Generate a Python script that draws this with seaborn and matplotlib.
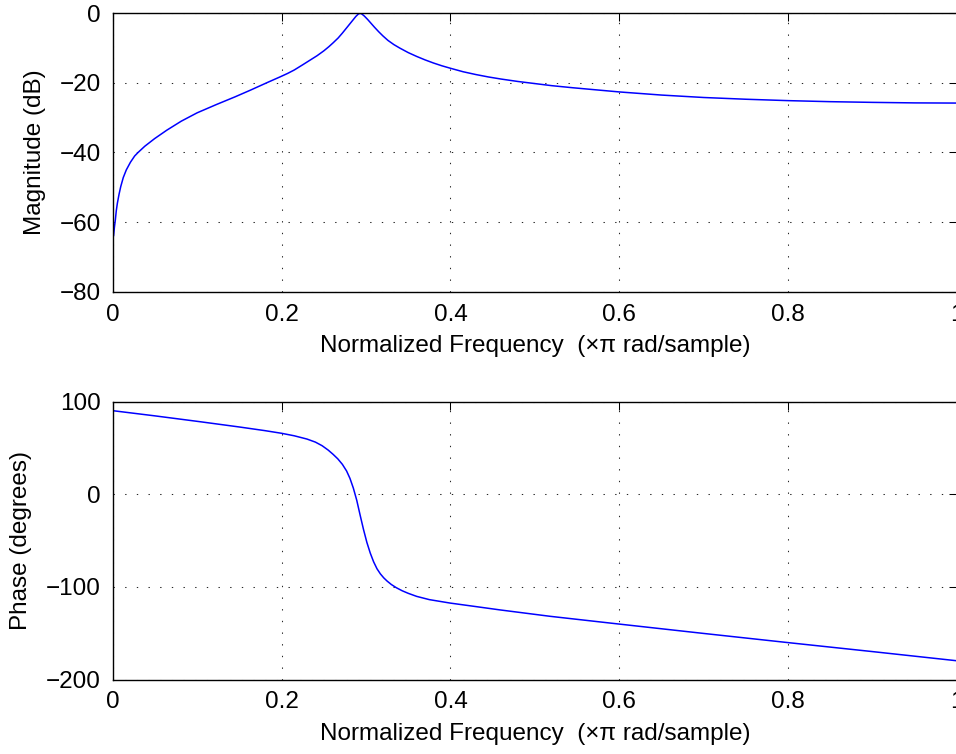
import matplotlib
matplotlib.use('Agg')
import matplotlib.pyplot as plt
import seaborn as sns
import pandas as pd

# Magnitude response
mag_freq = [0.001, 0.002, 0.0031, 0.0042, 0.0055, 0.0075, 0.0095, 0.0125, 0.0161, 0.021,
            0.026, 0.030, 0.038, 0.0497, 0.064, 0.0812, 0.100, 0.123, 0.145, 0.163,
            0.184, 0.198, 0.207, 0.215, 0.225, 0.2335, 0.242, 0.250, 0.256, 0.261,
            0.267, 0.272, 0.277, 0.281, 0.285, 0.288, 0.291, 0.293, 0.295, 0.298,
            0.302, 0.306, 0.310, 0.315, 0.320, 0.326, 0.333, 0.340, 0.350, 0.360,
            0.370, 0.380, 0.390, 0.400, 0.415, 0.430, 0.445, 0.460, 0.480, 0.500,
            0.520, 0.545, 0.577, 0.600, 0.650, 0.700, 0.750, 0.800, 0.850, 0.900,
            0.950, 1.0]
mag_db = [-64.0, -61.5, -59.4, -56.8, -54.6, -52.0, -49.8, -47.2, -45.0, -42.8,
          -41.0, -40.0, -38.2, -36.0, -33.6, -31.0, -28.6, -26.2, -24.0, -22.1,
          -19.8, -18.3, -17.3, -16.3, -14.8, -13.5, -12.2, -10.8, -9.6, -8.5,
          -7.1, -5.7, -4.2, -3.0, -1.8, -0.9, -0.2, 0.0, -0.2, -0.8,
          -1.8, -2.9, -4.0, -5.3, -6.5, -7.8, -9.0, -10.0, -11.3, -12.4,
          -13.4, -14.3, -15.1, -15.8, -16.8, -17.6, -18.3, -18.9, -19.6, -20.2,
          -20.8, -21.4, -22.1, -22.6, -23.5, -24.2, -24.7, -25.1, -25.4, -25.6,
          -25.75, -25.8]

# Phase response
ph_freq = [0.001, 0.05, 0.1034, 0.15, 0.18, 0.2, 0.215, 0.23, 0.240, 0.248,
           0.2553, 0.261, 0.2665, 0.272, 0.277, 0.281, 0.285, 0.289, 0.293, 0.297,
           0.301, 0.305, 0.309, 0.313, 0.317, 0.321, 0.325, 0.330, 0.336, 0.343,
           0.350, 0.360, 0.375, 0.3995, 0.430, 0.4587, 0.518, 0.601, 0.700, 0.800,
           0.900, 1.0]
ph_deg = [90.0, 84.5, 78.2, 72.5, 68.6, 65.7, 63.0, 59.5, 56.2, 52.3,
          47.5, 43.0, 38.2, 32.2, 25.0, 17.0, 6.5, -6.5, -22.5, -38.0,
          -52.0, -63.5, -73.0, -80.5, -86.0, -90.3, -93.8, -97.5, -101.0, -104.3,
          -107.0, -110.3, -113.8, -117.5, -121.3, -124.9, -131.8, -140.3, -150.3, -160.2,
          -169.9, -179.8]

x_ticks = [0, 0.2, 0.4, 0.6, 0.8, 1]
x_ticklabels = ['0', '0.2', '0.4', '0.6', '0.8', '1']
mag_ticks = [-80, -60, -40, -20, 0]
ph_ticks = [-200, -100, 0, 100]
xlabel = 'Normalized Frequency  (\u00d7\u03c0 rad/sample)'

sns.set_style('white')
plt.rcParams['font.family'] = ['Liberation Sans', 'DejaVu Sans']
plt.rcParams['font.size'] = 17.5
plt.rcParams['axes.linewidth'] = 1.0
plt.rcParams['axes.labelcolor'] = 'black'
plt.rcParams['text.color'] = 'black'

fig = plt.figure(figsize=(9.56, 7.54), dpi=100)
ax1 = fig.add_axes([0.1179, 0.6131, 0.8832, 0.3693])
ax2 = fig.add_axes([0.1179, 0.0988, 0.8832, 0.3687])

mag_df = pd.DataFrame({'freq': mag_freq, 'mag': mag_db})
ph_df = pd.DataFrame({'freq': ph_freq, 'phase': ph_deg})

sns.lineplot(data=mag_df, x='freq', y='mag', ax=ax1, color='#0000ff', lw=1.1)
sns.lineplot(data=ph_df, x='freq', y='phase', ax=ax2, color='#0000ff', lw=1.1)

for ax, yt, ylim, ylab in [(ax1, mag_ticks, (-80, 0), 'Magnitude (dB)'),
                           (ax2, ph_ticks, (-200, 100), 'Phase (degrees)')]:
    ax.set_xlim(0, 1)
    ax.set_ylim(*ylim)
    ax.set_xticks(x_ticks)
    ax.set_xticklabels(x_ticklabels)
    ax.set_yticks(yt)
    ax.grid(True, color='0.15', linestyle=(0, (1.3, 9.9)), linewidth=0.75)
    ax.tick_params(direction='in', length=6, width=0.75, top=True, right=True,
                   pad=8.5, labelsize=17.5, colors='black')
    for sp in ax.spines.values():
        sp.set_color('black')
        sp.set_linewidth(1.0)
    ax.set_xlabel(xlabel, fontsize=17.5, labelpad=7, color='black')
    ax.set_ylabel(ylab, fontsize=17.5, labelpad=10, color='black')

fig.savefig('out.png', dpi=100, facecolor='white')
